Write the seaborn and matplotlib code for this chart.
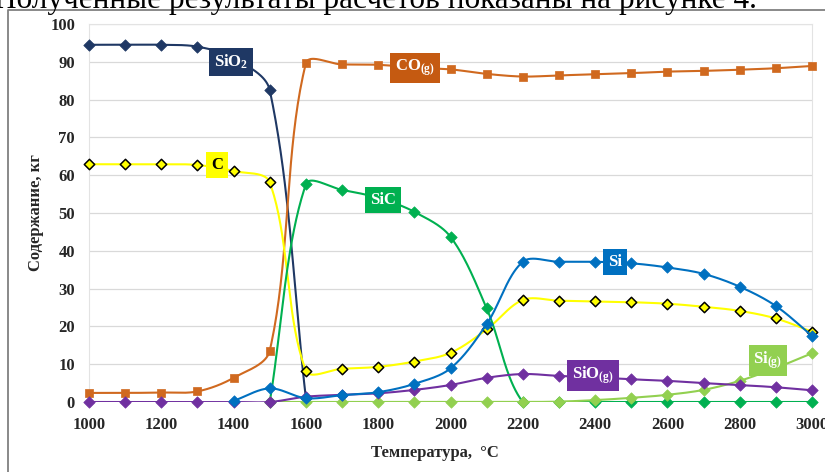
import numpy as np
import pandas as pd
import matplotlib
matplotlib.use("Agg")
import matplotlib.pyplot as plt
from matplotlib.lines import Line2D
import seaborn as sns

# ---------------- data ----------------
temps = list(range(1000, 3001, 100))

sio2_t = temps[:7]                     # 1000..1600
sio2 = [94.5, 94.5, 94.5, 94.0, 91.0, 82.5, 1.0]

co = [2.4, 2.4, 2.5, 2.8, 6.4, 13.6, 89.6, 89.3, 89.2, 88.5, 88.0,
      86.8, 86.1, 86.4, 86.7, 87.0, 87.4, 87.6, 87.9, 88.3, 88.9]

c = [62.9, 62.9, 62.9, 62.7, 61.1, 58.1, 8.3, 8.8, 9.3, 10.7, 13.0,
     19.2, 27.0, 26.8, 26.6, 26.4, 26.0, 25.2, 24.1, 22.1, 18.6]

sic_t = temps[5:]                      # 1500..3000
sic = [0.0, 57.6, 56.1, 54.0, 50.3, 43.7, 24.8, 0.0, 0.0, 0.0, 0.0,
       0.0, 0.0, 0.0, 0.0, 0.0]

si_t = temps[4:]                       # 1400..3000
si = [0.3, 3.6, 1.0, 1.8, 2.6, 4.8, 8.9, 20.6, 37.1, 37.1, 37.1,
      36.7, 35.6, 33.9, 30.5, 25.4, 17.5]

sig_t = temps[5:]                      # 1500..3000
sig = [0.0, 0.0, 0.0, 0.0, 0.0, 0.0, 0.0, 0.0, 0.1, 0.5, 1.1,
       1.9, 3.2, 5.6, 9.0, 12.9]

sio = [0.0, 0.0, 0.0, 0.0, 0.0, 0.0, 1.4, 1.9, 2.3, 3.2, 4.5,
       6.4, 7.4, 6.9, 6.5, 6.0, 5.6, 5.0, 4.5, 3.9, 3.1]

x_ticks = list(range(1000, 3001, 200))
y_ticks = list(range(0, 101, 10))

# ---------------- style ----------------
W, H = 825, 472
fig = plt.figure(figsize=(W / 100, H / 100), dpi=100)
sns.set_style("white")
plt.rcParams["font.family"] = ["Liberation Serif", "DejaVu Serif"]
plt.rcParams["mathtext.fontset"] = "custom"
plt.rcParams["mathtext.rm"] = "Liberation Serif:bold"
plt.rcParams["mathtext.bf"] = "Liberation Serif:bold"
plt.rcParams["mathtext.it"] = "Liberation Serif:bold"

ax_l, ax_r, ax_t, ax_b = 89, 812, 24, 402
ax = fig.add_axes([ax_l / W, 1 - ax_b / H, (ax_r - ax_l) / W, (ax_b - ax_t) / H])
ax.set_xlim(1000, 3000)
ax.set_ylim(0, 100)

# pixel scales for Excel-like smoothing
sx = (ax_r - ax_l) / 2000.0
sy = (ax_b - ax_t) / 100.0


def smooth(xs, ys, n=40):
    P = np.column_stack([np.asarray(xs, float) * sx, np.asarray(ys, float) * sy])
    out = [P[0]]
    m = len(P)
    for i in range(m - 1):
        p0 = P[i - 1] if i > 0 else P[i]
        p1, p2 = P[i], P[i + 1]
        p3 = P[i + 2] if i + 2 < m else P[i + 1]
        d01 = np.linalg.norm(p1 - p0)
        d12 = np.linalg.norm(p2 - p1)
        d23 = np.linalg.norm(p3 - p2)
        k = 1 / 3
        c1 = p1 + (p2 - p0) * k * (d12 / (d01 + d12) if d01 + d12 > 0 else 0)
        c2 = p2 - (p3 - p1) * k * (d12 / (d12 + d23) if d12 + d23 > 0 else 0)
        t = np.linspace(0, 1, n)[1:, None]
        b = ((1 - t) ** 3) * p1 + 3 * ((1 - t) ** 2) * t * c1 + 3 * (1 - t) * t ** 2 * c2 + t ** 3 * p2
        out.extend(b)
    out = np.array(out)
    return out[:, 0] / sx, out[:, 1] / sy


series = [
    ("SiO2", sio2_t, sio2, "#1F3864", "D", "#1F3864", "#1F3864", 34),
    ("CO", temps, co, "#D0691F", "s", "#D0691F", "#D0691F", 40),
    ("C", temps, c, "#FFFF00", "D", "#FFFF00", "#000000", 28),
    ("SiC", sic_t, sic, "#00B050", "D", "#00B050", "#00B050", 34),
    ("Si(g)", sig_t, sig, "#92D050", "D", "#92D050", "#92D050", 34),
    ("SiO(g)", temps, sio, "#7030A0", "D", "#7030A0", "#7030A0", 34),
    ("Si", si_t, si, "#0070C0", "D", "#0070C0", "#0070C0", 34),
]

for i, (name, xs, ys, col, mk, fc, ec, s) in enumerate(series):
    cx, cy = smooth(xs, ys)
    dfc = pd.DataFrame({"T": cx, "v": cy})
    sns.lineplot(data=dfc, x="T", y="v", ax=ax, color=col, lw=1.5,
                 sort=False, estimator=None, zorder=3 + 2 * i)
    dfp = pd.DataFrame({"T": xs, "v": ys})
    sns.scatterplot(data=dfp, x="T", y="v", ax=ax, marker=mk, s=s,
                    color=fc, edgecolor=ec, linewidth=1.1 if name == "C" else 0.5,
                    zorder=3.5 + 2 * i, clip_on=False)

# grid and frame
ax.set_yticks(y_ticks)
ax.set_xticks(x_ticks)
ax.yaxis.grid(True, color="#D9D9D9", lw=0.9, zorder=0)
ax.xaxis.grid(False)
for side in ["left", "right", "top"]:
    ax.spines[side].set_visible(True)
    ax.spines[side].set_color("#E3E3E3")
    ax.spines[side].set_linewidth(0.8)
ax.spines["bottom"].set_visible(False)
ax.tick_params(axis="both", length=0, labelsize=12)
ax.tick_params(axis="x", pad=11)
ax.tick_params(axis="y", pad=10)
for lab in ax.get_xticklabels() + ax.get_yticklabels():
    lab.set_fontweight("bold")
ax.set_xlabel("")
ax.set_ylabel("")

# series labels
def box(x, y, txt, fc, tc="white"):
    ax.text(x, y, txt, ha="center", va="center", fontsize=12, fontweight="bold",
            color=tc, zorder=30,
            bbox=dict(boxstyle="square,pad=0.28", fc=fc, ec="none"))

box(1393, 90.0, r"SiO$_{\mathbf{2}}$", "#1F3864")
box(1902, 88.4, r"CO$_{\mathbf{(g)}}$", "#C55A11")
box(1354, 62.7, "C", "#FFFF00", tc="black")
box(1813, 53.4, "SiC", "#00B050")
box(2455, 37.0, "Si", "#0070C0")
box(2394, 7.1, r"SiO$_{\mathbf{(g)}}$", "#7030A0")
box(2878, 11.1, r"Si$_{\mathbf{(g)}}$", "#92D050")

# axis titles
fig.text(36 / W, 1 - 213 / H, "Содержание, кг", rotation=90, ha="center", va="center",
         fontsize=12, fontweight="bold")
fig.text(435 / W, 1 - 453 / H, "Температура,  °C", ha="center", va="center",
         fontsize=12, fontweight="bold")

# outer chart frame
fig.add_artist(Line2D([8 / W, 8 / W, 1.0], [0.0, 1 - 10 / H, 1 - 10 / H],
                      transform=fig.transFigure, color="#808080", lw=1.3))

# cropped line of document text above the chart
fig.text(757 / W, 1 - 8 / H, "Полученные результаты расчетов показаны на рисунке 4.",
         ha="right", va="baseline", fontsize=22.5, color="black")

fig.savefig("out.png", dpi=100)
